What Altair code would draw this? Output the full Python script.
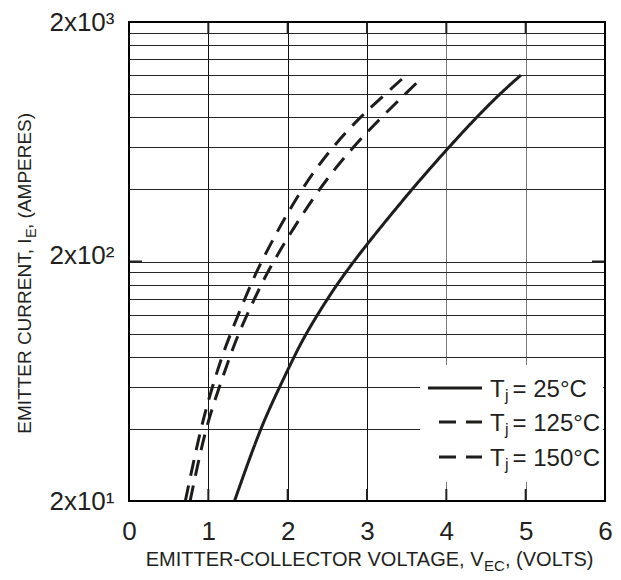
import altair as alt
import pandas as pd

# ---------------- data ----------------
SERIES = ["25°C", "125°C", "150°C"]

I_25 = [20, 40, 60, 80, 100, 140, 200, 400, 600, 800, 1000, 1200]
V_25 = [1.33, 1.65, 1.90, 2.08, 2.23, 2.50, 2.82, 3.56, 4.03, 4.38, 4.67, 4.94]

I_125 = [20, 40, 60, 80, 100, 140, 200, 400, 600, 800, 1000, 1160]
V_125 = [0.77, 0.96, 1.14, 1.27, 1.38, 1.58, 1.81, 2.38, 2.82, 3.18, 3.48, 3.68]

I_150 = [20, 40, 60, 80, 100, 140, 200, 400, 600, 800, 1000, 1180]
V_150 = [0.71, 0.90, 1.05, 1.17, 1.28, 1.46, 1.66, 2.16, 2.56, 2.91, 3.23, 3.47]

X_TICKS = [0, 1, 2, 3, 4, 5, 6]
X_INNER_TICKS = [1, 2, 3, 4, 5]
Y_GRID = [20, 40, 60, 80, 100, 120, 140, 160, 180, 200,
          400, 600, 800, 1000, 1200, 1400, 1600, 1800, 2000]
Y_LABELS = {20: "2x10¹", 200: "2x10²", 2000: "2x10³"}
Y_INNER_TICKS = [200]

X_TITLE = ["EMITTER-COLLECTOR VOLTAGE, V", "EC", ", (VOLTS)"]
Y_TITLE = ["EMITTER CURRENT, I", "E", ", (AMPERES)"]

# ---------------- styling ----------------
FONT = "Liberation Sans"
INK = "#1d1d1b"
TXT = "#231f20"
W, H = 476, 479

rows = []
for name, I, V in [("25°C", I_25, V_25), ("125°C", I_125, V_125), ("150°C", I_150, V_150)]:
    for i, v in zip(I, V):
        rows.append({"Tj": name, "I": i, "V": v})
curve_df = pd.DataFrame(rows)

xscale = alt.Scale(domain=[0, 6], nice=False, zero=False)
yscale = alt.Scale(type="log", domain=[20, 2000], nice=False)

label_expr = " : ".join(
    f"datum.value == {k} ? '{v}'" for k, v in Y_LABELS.items()
) + " : ''"

xaxis = alt.Axis(
    values=X_TICKS, title=None, grid=True, ticks=False, tickSize=0, domain=False,
    labelFont=FONT, labelFontSize=26, labelColor=TXT, labelPadding=17,
    labelFlush=False, format="d",
    gridColor={"condition": {"test": "datum.value >= 4", "value": "#7a7a7a"}, "value": "#111111"},
    gridWidth=1,
)
yaxis = alt.Axis(
    values=Y_GRID, title=None, grid=True, ticks=False, tickSize=0, domain=False,
    labelExpr=label_expr, labelFont=FONT, labelFontSize=26, labelColor=TXT,
    labelPadding=15, labelBaseline="middle",
    labelOffset={"condition": {"test": "datum.value == 200", "value": -6}, "value": 0},
    gridColor="#262626", gridWidth=1,
)

curves = alt.Chart(curve_df).mark_line(strokeWidth=3, color=INK, interpolate="basis").encode(
    x=alt.X("V:Q", scale=xscale, axis=xaxis),
    y=alt.Y("I:Q", scale=yscale, axis=yaxis),
    strokeDash=alt.StrokeDash(
        "Tj:N",
        scale=alt.Scale(domain=SERIES, range=[[1, 0], [16, 10], [16, 10]]),
        legend=None,
    ),
    detail="Tj:N",
    order="I:Q",
)

# inward ticks
xt = pd.DataFrame({"V": X_INNER_TICKS})
yt = pd.DataFrame({"I": Y_INNER_TICKS})
TICK = "#222222"
top_ticks = alt.Chart(xt).mark_rule(color=TICK, strokeWidth=2).encode(
    x=alt.X("V:Q", scale=xscale, axis=xaxis), y=alt.value(0), y2=alt.value(12))
bot_ticks = alt.Chart(xt).mark_rule(color=TICK, strokeWidth=2).encode(
    x=alt.X("V:Q", scale=xscale, axis=xaxis), y=alt.value(H - 12), y2=alt.value(H))
left_ticks = alt.Chart(yt).mark_rule(color=TICK, strokeWidth=2).encode(
    y=alt.Y("I:Q", scale=yscale, axis=yaxis), x=alt.value(0), x2=alt.value(13))
right_ticks = alt.Chart(yt).mark_rule(color=TICK, strokeWidth=2).encode(
    y=alt.Y("I:Q", scale=yscale, axis=yaxis), x=alt.value(W - 13), x2=alt.value(W))

one = pd.DataFrame({"a": [0]})
frame = alt.Chart(one).mark_rect(fill=None, stroke="black", strokeWidth=2).encode(
    x=alt.value(0), x2=alt.value(W), y=alt.value(0), y2=alt.value(H))

# legend (drawn by hand so that the subscript j can be shown)
legend_box = alt.Chart(one).mark_rect(fill="white").encode(
    x=alt.value(291), x2=alt.value(W - 2), y=alt.value(343), y2=alt.value(460))

legend_layers = [legend_box]
row_y = [366, 400, 435]
for name, ry in zip(SERIES, row_y):
    dash = [1, 0] if name == "25°C" else [17, 10]
    x_start = 299 if name == "25°C" else 310
    legend_layers.append(
        alt.Chart(one).mark_rule(color=INK, strokeWidth=3, strokeDash=dash).encode(
            x=alt.value(x_start), x2=alt.value(353), y=alt.value(ry))
    )
    for txt, xx, dy, fs in [("T", 361, 8.7, 24), ("j", 376, 13, 16), ("= " + name, 383.5, 8.7, 24)]:
        legend_layers.append(
            alt.Chart(pd.DataFrame({"t": [txt]})).mark_text(
                align="left", baseline="alphabetic", font=FONT, fontSize=fs, color=TXT
            ).encode(x=alt.value(xx), y=alt.value(ry + dy), text="t:N")
        )

# axis titles with subscripts
def txt_layer(t, x, y, fs, align, angle=0):
    return alt.Chart(pd.DataFrame({"t": [t]})).mark_text(
        align=align, baseline="alphabetic", font=FONT, fontSize=fs, color=TXT, angle=angle
    ).encode(x=alt.value(x), y=alt.value(y), text="t:N")

title_layers = [
    txt_layer(X_TITLE[0], 354.5, 544, 20, "right"),
    txt_layer(X_TITLE[1], 355, 548.5, 15, "left"),
    txt_layer(X_TITLE[2], 376, 544, 20, "left"),
    txt_layer(Y_TITLE[0], -98, 216.5, 19, "right", 270),
    txt_layer(Y_TITLE[1], -93, 216, 14.5, "left", 270),
    txt_layer(Y_TITLE[2], -98, 207, 19, "left", 270),
]

chart = alt.layer(
    curves, top_ticks, bot_ticks, left_ticks, right_ticks, frame, *legend_layers, *title_layers
).properties(
    width=W, height=H,
    background="white",
    autosize=alt.AutoSizeParams(type="none"),
    padding={"left": 121, "top": 14, "right": 8, "bottom": 71},
).configure_view(
    stroke="black", strokeWidth=2
)

chart.save("out.html", embed_options={"renderer": "svg", "actions": False})
